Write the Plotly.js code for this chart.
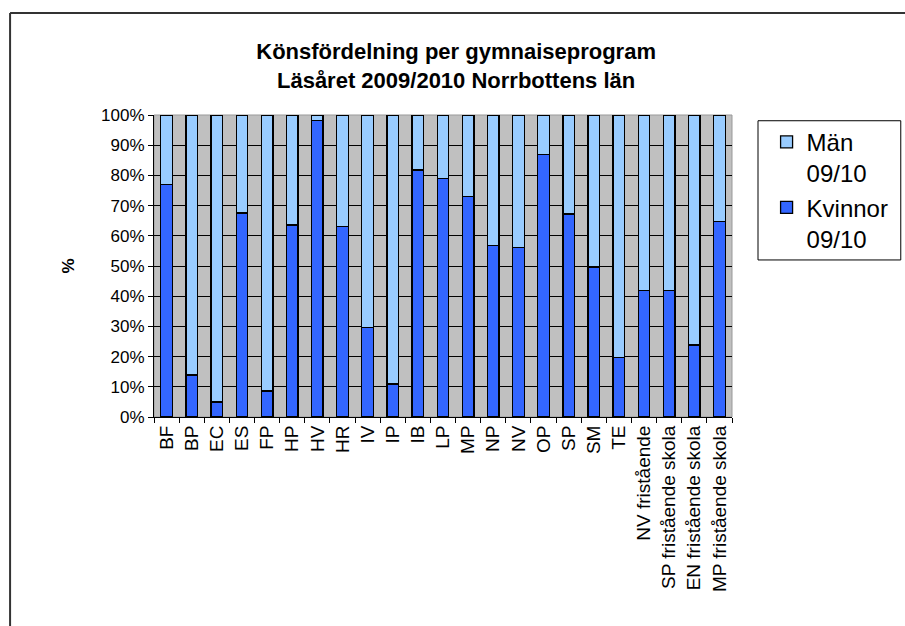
<!DOCTYPE html>
<html>
<head>
<meta charset="utf-8">
<script src="https://cdn.plot.ly/plotly-3.0.1.min.js"></script>
<style>html,body{margin:0;padding:0;background:#fff;overflow:hidden;}#chart{width:905px;height:626px;}</style>
</head>
<body>
<div id="chart"></div>
<script>
var categories = ["BF","BP","EC","ES","FP","HP","HV","HR","IV","IP","IB","LP","MP","NP","NV","OP","SP","SM","TE","NV fristående","SP fristående skola","EN fristående skola","MP fristående skola"];
var kvinnor = [77.0, 13.9, 5.0, 67.6, 8.6, 63.6, 98.1, 63.1, 29.6, 10.9, 81.8, 78.9, 72.9, 56.7, 56.1, 87.0, 67.2, 49.7, 19.7, 42.0, 42.0, 23.8, 64.8];
var man = [23.0, 86.1, 95.0, 32.4, 91.4, 36.4, 1.9, 36.9, 70.4, 89.1, 18.2, 21.1, 27.1, 43.3, 43.9, 13.0, 32.8, 50.3, 80.3, 58.0, 58.0, 76.2, 35.2];
var yTickVals = [0,10,20,30,40,50,60,70,80,90,100];
var yTickText = ["0%","10%","20%","30%","40%","50%","60%","70%","80%","90%","100%"];

var FONT = "Liberation Sans, Arial, sans-serif";

var traces = [
  {type:"bar", name:"Kvinnor<br>09/10", x:categories, y:kvinnor,
   marker:{color:"#3366FF", line:{color:"#000000", width:1.3}}},
  {type:"bar", name:"Män<br>09/10", x:categories, y:man,
   marker:{color:"#99CCFF", line:{color:"#000000", width:1.3}}}
];

var layout = {
  width:905, height:626,
  margin:{l:154, r:172, t:115, b:209, pad:0},
  paper_bgcolor:"#ffffff",
  plot_bgcolor:"#C0C0C0",
  barmode:"stack",
  bargap:0.54,
  font:{family:FONT, color:"#000000"},
  title:{text:"<b>Könsfördelning per gymnaiseprogram<br>Läsåret 2009/2010 Norrbottens län</b>",
         font:{family:FONT, size:22, color:"#000000"},
         xref:"container", x:0.504, xanchor:"center",
         yref:"container", y:0.905, yanchor:"middle"},
  xaxis:{type:"category", tickangle:-90, tickfont:{family:FONT, size:19, color:"#000"},
         showline:true, linecolor:"#000", linewidth:1, ticks:"outside", ticklen:5,
         tickcolor:"#000", tickson:"boundaries", showgrid:false, automargin:false},
  yaxis:{range:[0,100], tickmode:"array", tickvals:yTickVals, ticktext:yTickText,
         tickfont:{family:FONT, size:17, color:"#000"},
         showline:true, linecolor:"#000", linewidth:1, ticks:"outside", ticklen:5, tickcolor:"#000",
         showgrid:true, gridcolor:"#000000", gridwidth:1, zeroline:false, automargin:false,
         title:{text:"<b>%</b>", font:{family:FONT, size:17, color:"#000"}, standoff:22}},
  legend:{x:1.058, xanchor:"left", y:0.984, yanchor:"top", bgcolor:"rgba(0,0,0,0)",
          borderwidth:0, font:{family:FONT, size:24, color:"#000"}, valign:"top",
          traceorder:"reversed", tracegroupgap:3},
  shapes:[
    {type:"rect", xref:"paper", yref:"paper", x0:1.045, x1:1.292, y0:0.52, y1:0.981,
     line:{color:"#000", width:1}, fillcolor:"rgba(0,0,0,0)"},
    {type:"line", xref:"paper", yref:"paper", x0:-0.249, x1:1.32, y0:1.338, y1:1.338,
     line:{color:"#333333", width:2}},
    {type:"line", xref:"paper", yref:"paper", x0:-0.249, x1:-0.249, y0:-0.8, y1:1.338,
     line:{color:"#333333", width:2}},
    {type:"rect", xref:"paper", yref:"paper", x0:0, x1:1, y0:0, y1:1,
     line:{color:"#999999", width:1}, fillcolor:"rgba(0,0,0,0)", layer:"below"}
  ]
};

Plotly.newPlot("chart", traces, layout, {staticPlot:true, displayModeBar:false});
</script>
</body>
</html>
